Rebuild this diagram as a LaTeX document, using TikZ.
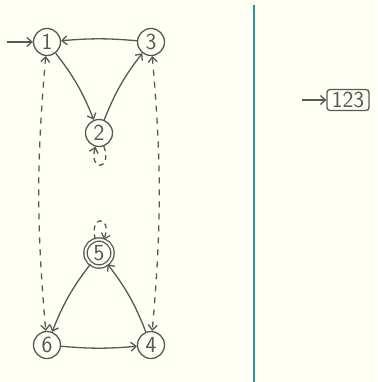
\documentclass[tikz,border=0pt]{standalone}
\usetikzlibrary{arrows.meta}
\definecolor{bgc}{HTML}{FFFFF4}
\definecolor{ink}{HTML}{585858}
\definecolor{teal1}{HTML}{23979C}
\begin{document}
\begin{tikzpicture}[x=1pt,y=-1pt,
  every node/.style={font=\sffamily\fontsize{23}{27}\selectfont, text=ink},
  st/.style={circle,draw=ink,line width=1.3pt,minimum size=27pt,inner sep=0pt},
  acc/.style={st,double=bgc,double distance=2pt},
  tr/.style={draw=ink,line width=1.3pt,-{Straight Barb[length=5pt,width=9pt]}},
  dtr/.style={tr,dash pattern=on 6pt off 6pt},
  box/.style={draw=ink,line width=1.3pt,rounded corners=3pt,minimum width=42pt,minimum height=21pt,inner sep=1pt}]
\fill[bgc] (0,0) rectangle (377,382);
\useasboundingbox (0,0) rectangle (377,382);
\node[st] (n1) at (47,42) {1};
\node[st] (n3) at (151,42) {3};
\node[st] (n2) at (99,133) {2};
\node[acc] (n5) at (99,253) {5};
\node[st] (n6) at (47,345) {6};
\node[st] (n4) at (151,345) {4};
\coordinate (s1) at (7,42);
\draw[tr] (s1) -- (n1);
\draw[tr] (n3) to[bend right=5] (n1);
\draw[tr] (n1) to[bend left=8] (n2);
\draw[tr] (n2) to[bend left=8] (n3);
\draw[tr] (n5) to[bend right=8] (n6);
\draw[tr] (n6) to[bend right=5] (n4);
\draw[tr] (n4) to[bend right=8] (n5);
\draw[dtr,{Straight Barb[length=5pt,width=9pt]}-{Straight Barb[length=5pt,width=9pt]}] (n1) to[bend right=5] (n6);
\draw[dtr,{Straight Barb[length=5pt,width=9pt]}-{Straight Barb[length=5pt,width=9pt]}] (n3) to[bend left=5] (n4);
\draw[dtr,dash pattern=on 5pt off 4pt] (n2) to[out=-70,in=-105,min distance=26pt] (n2);
\draw[dtr,dash pattern=on 5pt off 4pt] (n5) to[out=105,in=70,min distance=26pt] (n5);
\coordinate (vt) at (254,5);
\coordinate (vb) at (254,382);
\draw[teal1,line width=1.3pt] (vt) -- (vb);
\node[box] (b) at (348,100) {123};
\coordinate (sb) at (302,100);
\draw[tr] (sb) -- (b);
\end{tikzpicture}
\end{document}
